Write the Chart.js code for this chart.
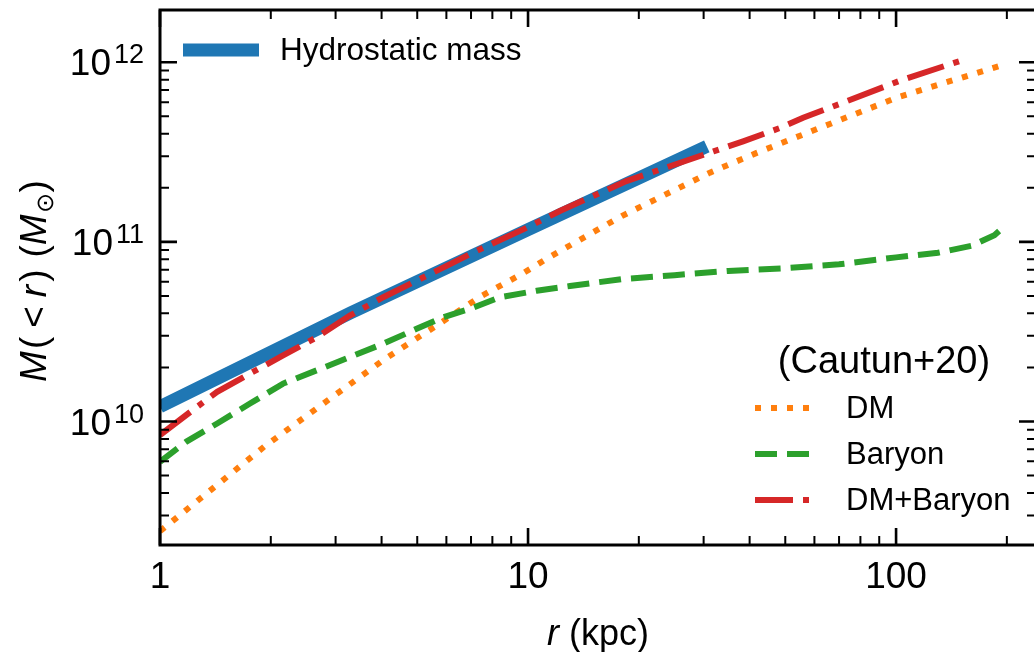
<!DOCTYPE html>
<html><head><meta charset="utf-8">
<script src="https://cdn.jsdelivr.net/npm/chart.js@4.4.0/dist/chart.umd.min.js"></script>
<style>html,body{margin:0;padding:0;background:#fff;overflow:hidden;}canvas{display:block;}</style>
</head><body>
<canvas id="c" width="1040" height="652" style="width:1040px;height:652px"></canvas>
<script>
// ---- data (r in kpc, M in solar masses) ----
const hydroR = [1, 3.3, 10, 30.6];
const hydroM = [1.21e10, 4.03e10, 1.17e11, 3.4e11];

const dmR = [1, 1.93, 2.92, 4.07, 5.74, 7.41, 9.68, 11.4, 17.97, 31.2, 41.8, 67.4, 102, 195];
const dmM = [2.45e9, 7.31e9, 1.355e10, 2.22e10, 3.50e10, 4.95e10, 6.68e10, 8.20e10, 1.393e11, 2.43e11, 3.13e11, 4.61e11, 6.43e11, 9.66e11];

const baryonR = [1, 1.18, 1.43, 1.756, 2.16, 2.67, 3.28, 4.04, 4.98, 5.89, 6.96, 8.39, 10.56, 13, 18, 25, 35, 50, 70, 100, 130, 160, 185, 195];
const baryonM = [5.96e9, 7.73e9, 9.75e9, 1.259e10, 1.626e10, 1.93e10, 2.286e10, 2.71e10, 3.28e10, 3.81e10, 4.24e10, 4.92e10, 5.35e10, 5.68e10, 6.21e10, 6.53e10, 6.89e10, 7.14e10, 7.5e10, 8.2e10, 8.7e10, 9.5e10, 1.09e11, 1.2e11];

const totalR = [1, 1.21, 1.43, 1.756, 2.16, 2.67, 3.28, 4.04, 4.98, 6.14, 7.1, 10, 12.2, 18.5, 31.9, 38.4, 48.4, 55.9, 70.4, 103.8, 152];
const totalM = [8.41e9, 1.132e10, 1.462e10, 1.849e10, 2.333e10, 2.95e10, 3.89e10, 4.92e10, 6.08e10, 7.52e10, 8.73e10, 1.208e11, 1.486e11, 2.18e11, 3.19e11, 3.63e11, 4.31e11, 4.91e11, 5.87e11, 7.98e11, 1.03e12];

const xTickValues = [1, 10, 100];
const xTickLabels = ['1', '10', '100'];
const yTickValues = [1e10, 1e11, 1e12];
const yTickExponents = ['10', '11', '12'];

const legendMainLabel = 'Hydrostatic mass';
const legendTitle = '(Cautun+20)';
const legendLabels = ['DM', 'Baryon', 'DM+Baryon'];

const C_BLUE = '#1f77b4', C_ORANGE = '#ff7f0e', C_GREEN = '#2ca02c', C_RED = '#d62728';
const FONT = '"Liberation Sans", Arial, Helvetica, sans-serif';

function pts(rs, ms) { return rs.map((r, i) => ({ x: r, y: ms[i] })); }

const DASH_DOT = [38, 10, 6, 10];
const DASHED = [22, 10];
const DOTTED = [6, 10];

const overlay = {
  id: 'overlay',
  afterDatasetsDraw(chart) {
    const ctx = chart.ctx;
    const a = chart.chartArea;
    const xs = chart.scales.x, ys = chart.scales.y;
    ctx.save();
    ctx.strokeStyle = '#000';
    ctx.lineCap = 'butt';
    function xTick(v, len, w) {
      const px = xs.getPixelForValue(v);
      if (px < a.left - 0.5 || px > a.right + 0.5) return;
      ctx.lineWidth = w;
      ctx.beginPath();
      ctx.moveTo(px, a.bottom); ctx.lineTo(px, a.bottom - len);
      ctx.moveTo(px, a.top); ctx.lineTo(px, a.top + len);
      ctx.stroke();
    }
    function yTick(v, len, w) {
      const py = ys.getPixelForValue(v);
      if (py < a.top - 0.5 || py > a.bottom + 0.5) return;
      ctx.lineWidth = w;
      ctx.beginPath();
      ctx.moveTo(a.left, py); ctx.lineTo(a.left + len, py);
      ctx.moveTo(a.right, py); ctx.lineTo(a.right - len, py);
      ctx.stroke();
    }
    for (let e = 0; e <= 2; e++) {
      for (let m = 2; m <= 9; m++) xTick(m * Math.pow(10, e), 9, 2);
    }
    xTickValues.forEach(v => xTick(v, 17, 2.6));
    for (let e = 9; e <= 12; e++) {
      for (let m = 2; m <= 9; m++) yTick(m * Math.pow(10, e), 9, 2);
    }
    yTickValues.forEach(v => yTick(v, 17, 2.6));

    // spines
    ctx.lineWidth = 3;
    ctx.strokeRect(a.left, a.top, a.right - a.left, a.bottom - a.top);

    // x tick labels
    ctx.fillStyle = '#000';
    ctx.font = '37px ' + FONT;
    ctx.textAlign = 'center';
    ctx.textBaseline = 'middle';
    xTickValues.forEach((v, i) => {
      ctx.fillText(xTickLabels[i], xs.getPixelForValue(v), 578);
    });
    // y tick labels 10^n
    yTickValues.forEach((v, i) => {
      const py = ys.getPixelForValue(v);
      ctx.font = '27px ' + FONT;
      const we = ctx.measureText(yTickExponents[i]).width;
      ctx.textAlign = 'right';
      ctx.textBaseline = 'alphabetic';
      ctx.fillText(yTickExponents[i], 144, py + 1);
      ctx.font = '37px ' + FONT;
      ctx.textBaseline = 'middle';
      ctx.fillText('10', 144 - we - 3, py + 3);
    });

    // x axis title: r (kpc)
    ctx.textBaseline = 'alphabetic';
    ctx.textAlign = 'left';
    const xParts = [['italic ', 'r'], ['', ' (kpc)']];
    let total = 0;
    xParts.forEach(p => { ctx.font = p[0] + '36px ' + FONT; total += ctx.measureText(p[1]).width; });
    let cx = (a.left + a.right) / 2 - total / 2;
    xParts.forEach(p => { ctx.font = p[0] + '36px ' + FONT; ctx.fillText(p[1], cx, 645); cx += ctx.measureText(p[1]).width; });

    // y axis title: M(< r) (M_sun)  [style, text, size, baseline shift, gap after]
    ctx.save();
    ctx.translate(46, 281);
    ctx.rotate(-Math.PI / 2);
    const yParts = [['italic ', 'M', 37, 0, 2], ['', '(', 37, 0, 9], ['', '<', 37, 0, 9], ['italic ', 'r', 37, 0, 3], ['', ')', 37, 0, 12],
                    ['', '(', 37, 0, 0], ['italic ', 'M', 37, 0, 1], ['', '\u2299', 24, 7, 1], ['', ')', 37, 0, 0]];
    total = 0;
    yParts.forEach(p => { ctx.font = p[0] + p[2] + 'px ' + FONT; total += ctx.measureText(p[1]).width + p[4]; });
    cx = -total / 2;
    yParts.forEach(p => { ctx.font = p[0] + p[2] + 'px ' + FONT; ctx.fillText(p[1], cx, p[3]); cx += ctx.measureText(p[1]).width + p[4]; });
    ctx.restore();

    // legend 1
    ctx.lineWidth = 13;
    ctx.strokeStyle = C_BLUE;
    ctx.setLineDash([]);
    ctx.beginPath(); ctx.moveTo(183, 50); ctx.lineTo(259, 50); ctx.stroke();
    ctx.font = '31.5px ' + FONT;
    ctx.textBaseline = 'middle';
    ctx.textAlign = 'left';
    ctx.fillText(legendMainLabel, 280, 51);

    // legend 2
    ctx.font = '38px ' + FONT;
    ctx.textAlign = 'center';
    ctx.fillText(legendTitle, 884, 363);
    const cols = [C_ORANGE, C_GREEN, C_RED];
    const dashes = [DOTTED, DASHED, DASH_DOT];
    const ly = [408, 454, 500];
    ctx.font = '31px ' + FONT;
    ctx.textAlign = 'left';
    for (let i = 0; i < 3; i++) {
      ctx.strokeStyle = cols[i];
      ctx.lineWidth = 6;
      ctx.setLineDash(dashes[i]);
      ctx.beginPath(); ctx.moveTo(755, ly[i]); ctx.lineTo(811, ly[i]); ctx.stroke();
      ctx.fillText(legendLabels[i], 846, ly[i] + 1);
    }
    ctx.setLineDash([]);
    ctx.restore();
  }
};

new Chart(document.getElementById('c'), {
  type: 'line',
  data: {
    datasets: [
      { label: legendLabels[2], data: pts(totalR, totalM), borderColor: C_RED, borderWidth: 6, borderDash: DASH_DOT, borderCapStyle: 'butt', pointRadius: 0, tension: 0, fill: false, order: 1 },
      { label: legendLabels[1], data: pts(baryonR, baryonM), borderColor: C_GREEN, borderWidth: 6, borderDash: DASHED, borderCapStyle: 'butt', pointRadius: 0, tension: 0, fill: false, order: 2 },
      { label: legendLabels[0], data: pts(dmR, dmM), borderColor: C_ORANGE, borderWidth: 6, borderDash: DOTTED, borderCapStyle: 'butt', pointRadius: 0, tension: 0, fill: false, order: 3 },
      { label: legendMainLabel, data: pts(hydroR, hydroM), borderColor: C_BLUE, borderWidth: 13, borderCapStyle: 'butt', pointRadius: 0, tension: 0, fill: false, order: 4 }
    ]
  },
  options: {
    responsive: false,
    animation: false,
    devicePixelRatio: 1,
    layout: { padding: { left: 160, top: 10, right: 4, bottom: 107 } },
    plugins: { legend: { display: false }, tooltip: { enabled: false }, title: { display: false } },
    scales: {
      x: { type: 'logarithmic', min: 1, max: 240, display: false },
      y: { type: 'logarithmic', min: 2.053e9, max: 1.955e12, display: false }
    }
  },
  plugins: [overlay]
});
</script>
</body></html>
